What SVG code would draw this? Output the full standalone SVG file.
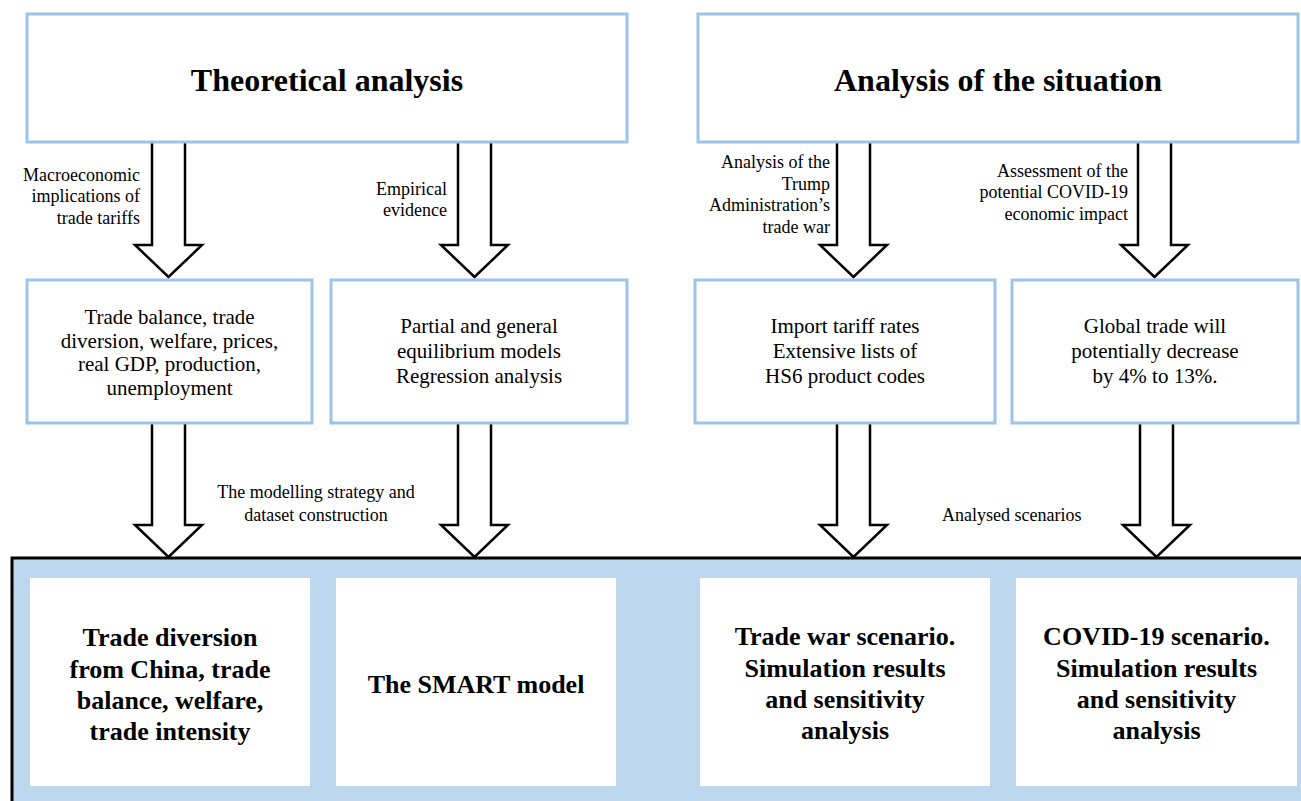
<svg xmlns="http://www.w3.org/2000/svg" width="1301" height="801" viewBox="0 0 1301 801">
<style>
.box{fill:#fff;stroke:#9DC3E6;stroke-width:3}
.arrow{fill:#fff;stroke:#000;stroke-width:2.5;stroke-linejoin:miter}
.title{font-family:"Liberation Serif","Times New Roman",serif;font-weight:bold;font-size:32px;text-anchor:middle;fill:#000}
.mid{font-family:"Liberation Serif","Times New Roman",serif;font-size:21px;text-anchor:middle;fill:#000}
.lbl{font-family:"Liberation Serif","Times New Roman",serif;font-size:18px;fill:#000}
.bold{font-family:"Liberation Serif","Times New Roman",serif;font-weight:bold;font-size:26px;text-anchor:middle;fill:#000}
.wbox{fill:#fff;stroke:none}
</style>
<rect width="1301" height="801" fill="#fff"/>
<g id="connectors">
<path class="arrow" d="M152,142 V245 H135 L168.5,277 L202,245 H185 V142"/>
<path class="arrow" d="M458,142 V245 H441 L474.5,277 L508,245 H491 V142"/>
<path class="arrow" d="M837,142 V245 H820 L853.5,277 L887,245 H870 V142"/>
<path class="arrow" d="M1138,142 V245 H1121 L1154.5,277 L1188,245 H1171 V142"/>
<path class="arrow" d="M152,423 V525 H135 L168.5,557 L202,525 H185 V423"/>
<path class="arrow" d="M458,423 V525 H441 L474.5,557 L508,525 H491 V423"/>
<path class="arrow" d="M837,423 V525 H820 L853.5,557 L887,525 H870 V423"/>
<path class="arrow" d="M1140,423 V525 H1123 L1156.5,557 L1190,525 H1173 V423"/>
<g id="connector-labels">
<text class="lbl" text-anchor="end"><tspan x="140" y="181">Macroeconomic</tspan><tspan x="140" y="202">implications of</tspan><tspan x="140" y="224">trade tariffs</tspan></text>
<text class="lbl" text-anchor="end"><tspan x="447" y="195">Empirical</tspan><tspan x="447" y="216">evidence</tspan></text>
<text class="lbl" text-anchor="end"><tspan x="830" y="168">Analysis of the</tspan><tspan x="830" y="190">Trump</tspan><tspan x="830" y="211">Administration’s</tspan><tspan x="830" y="233">trade war</tspan></text>
<text class="lbl" text-anchor="end"><tspan x="1128" y="177">Assessment of the</tspan><tspan x="1128" y="198">potential COVID-19</tspan><tspan x="1128" y="220">economic impact</tspan></text>
<text class="lbl" text-anchor="middle"><tspan x="316" y="498">The modelling strategy and</tspan><tspan x="316" y="521">dataset construction</tspan></text>
<text class="lbl" x="942" y="521">Analysed scenarios</text>
</g>
</g>
<g id="theoretical">
<rect class="box" x="27" y="14" width="600" height="128"/>
<text class="title" x="327" y="91">Theoretical analysis</text>
</g>
<g id="situation">
<rect class="box" x="698" y="14" width="600" height="128"/>
<text class="title" x="998" y="91">Analysis of the situation</text>
</g>
<g id="macro">
<rect class="box" x="27" y="280" width="285" height="143"/>
<text class="mid"><tspan x="169.5" y="324">Trade balance, trade</tspan><tspan x="169.5" y="348">diversion, welfare, prices,</tspan><tspan x="169.5" y="371">real GDP, production,</tspan><tspan x="169.5" y="395">unemployment</tspan></text>
</g>
<g id="models">
<rect class="box" x="331" y="280" width="296" height="143"/>
<text class="mid"><tspan x="479" y="333">Partial and general</tspan><tspan x="479" y="358">equilibrium models</tspan><tspan x="479" y="383">Regression analysis</tspan></text>
</g>
<g id="tariffs">
<rect class="box" x="695" y="280" width="300" height="143"/>
<text class="mid"><tspan x="845" y="333">Import tariff rates</tspan><tspan x="845" y="358">Extensive lists of</tspan><tspan x="845" y="383">HS6 product codes</tspan></text>
</g>
<g id="global">
<rect class="box" x="1012" y="280" width="286" height="143"/>
<text class="mid"><tspan x="1155" y="333">Global trade will</tspan><tspan x="1155" y="358">potentially decrease</tspan><tspan x="1155" y="383">by 4% to 13%.</tspan></text>
</g>
<g id="results">
<rect x="12" y="558" width="1300" height="260" fill="#BDD7EE" stroke="#000" stroke-width="3"/>
<g id="result-diversion">
<rect class="wbox" x="30" y="578" width="280" height="208"/>
<text class="bold"><tspan x="170" y="646">Trade diversion</tspan><tspan x="170" y="678">from China, trade</tspan><tspan x="170" y="709">balance, welfare,</tspan><tspan x="170" y="740">trade intensity</tspan></text>
</g>
<g id="result-smart">
<rect class="wbox" x="336" y="578" width="280" height="208"/>
<text class="bold" x="476" y="693">The SMART model</text>
</g>
<g id="result-tradewar">
<rect class="wbox" x="700" y="578" width="290" height="208"/>
<text class="bold"><tspan x="845" y="645">Trade war scenario.</tspan><tspan x="845" y="677">Simulation results</tspan><tspan x="845" y="708">and sensitivity</tspan><tspan x="845" y="739">analysis</tspan></text>
</g>
<g id="result-covid">
<rect class="wbox" x="1016" y="578" width="281" height="208"/>
<text class="bold"><tspan x="1156.5" y="645">COVID-19 scenario.</tspan><tspan x="1156.5" y="677">Simulation results</tspan><tspan x="1156.5" y="708">and sensitivity</tspan><tspan x="1156.5" y="739">analysis</tspan></text>
</g>
</g>
</svg>
